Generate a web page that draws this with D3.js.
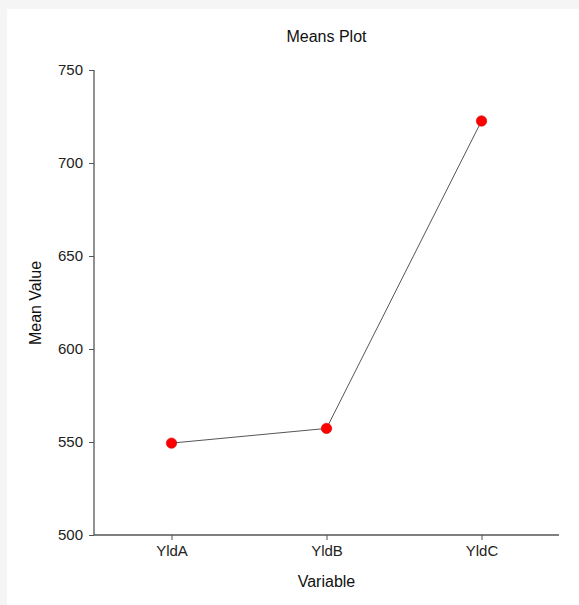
<!DOCTYPE html>
<html><head><meta charset="utf-8">
<script src="https://cdn.jsdelivr.net/npm/d3@7"></script>
<style>html,body{margin:0;padding:0;background:#f5f5f5;}svg{display:block;}</style>
</head><body>
<svg id="chart" width="579" height="605"></svg>
<script>
const categories = ["YldA", "YldB", "YldC"];
const meanValues = [549.4, 557.3, 722.6];
const yTicks = [500, 550, 600, 650, 700, 750];
const titleText = "Means Plot";
const xTitle = "Variable";
const yTitle = "Mean Value";

(function () {
const svg = d3.select("#chart");
svg.append("rect").attr("x", 7).attr("y", 9).attr("width", 572).attr("height", 596).attr("fill", "#ffffff");

const mLeft = 94, mRight = 559, mTop = 70, mBottom = 535;
const x = d3.scalePoint().domain(categories).range([mLeft, mRight]).padding(0.5);
const y = d3.scaleLinear().domain([500, 750]).range([mBottom, mTop]);

const font = "'Liberation Sans', Arial, sans-serif";

const yAxis = svg.append("g").attr("transform", `translate(${mLeft},0)`)
  .call(d3.axisLeft(y).tickValues(yTicks).tickSize(5).tickPadding(6).tickSizeOuter(0));
const xAxis = svg.append("g").attr("transform", `translate(0,${mBottom})`)
  .call(d3.axisBottom(x).tickSize(5).tickPadding(5).tickSizeOuter(0));
xAxis.select(".domain").attr("d", `M${mLeft},0H${mRight}`);
yAxis.select(".domain").attr("d", `M0,${mBottom}V${mTop}`);
[xAxis, yAxis].forEach(a => {
  a.selectAll(".domain").attr("stroke", "#555").attr("stroke-width", 1.3);
  a.selectAll(".tick line").attr("stroke", "#555");
  a.selectAll(".tick text").attr("font-family", font).attr("font-size", 15).attr("fill", "#222");
});

const pts = categories.map((c, i) => ({c, v: meanValues[i]}));
svg.append("path").datum(pts)
  .attr("d", d3.line().x(d => x(d.c)).y(d => y(d.v)))
  .attr("fill", "none").attr("stroke", "#555").attr("stroke-width", 1);
svg.selectAll("circle.pt").data(pts).join("circle").attr("class", "pt")
  .attr("cx", d => x(d.c)).attr("cy", d => y(d.v)).attr("r", 5.2)
  .attr("fill", "#ff0000").attr("stroke", "#d00000").attr("stroke-width", 0.6);

svg.append("text").attr("x", (mLeft + mRight) / 2).attr("y", 42).attr("text-anchor", "middle")
  .attr("font-family", font).attr("font-size", 16).attr("fill", "#111").text(titleText);
svg.append("text").attr("x", (mLeft + mRight) / 2).attr("y", 587).attr("text-anchor", "middle")
  .attr("font-family", font).attr("font-size", 16).attr("fill", "#111").text(xTitle);
svg.append("text").attr("transform", `translate(41,303) rotate(-90)`).attr("text-anchor", "middle")
  .attr("font-family", font).attr("font-size", 16).attr("fill", "#111").text(yTitle);
})();
</script>
</body></html>
